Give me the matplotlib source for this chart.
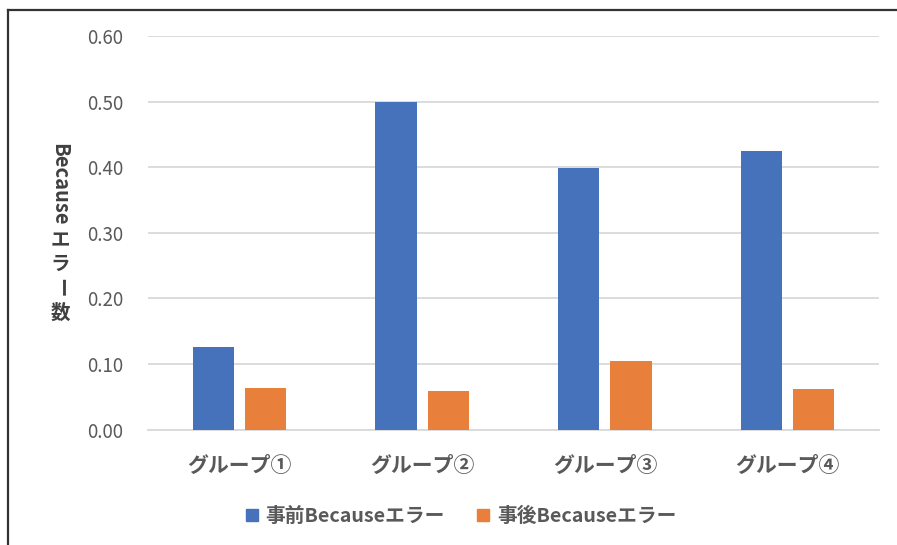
import matplotlib
matplotlib.use("Agg")
import matplotlib.pyplot as plt
from matplotlib.lines import Line2D
import numpy as np

plt.rcParams['font.family'] = ['Noto Sans CJK JP', 'DejaVu Sans']

# Data
groups = ["グループ①", "グループ②", "グループ③", "グループ④"]
before_err = [0.126, 0.500, 0.398, 0.425]
after_err = [0.064, 0.058, 0.104, 0.061]
series_names = ["事前Becauseエラー", "事後Becauseエラー"]
yticks = [0.0, 0.1, 0.2, 0.3, 0.4, 0.5, 0.6]

blue = "#4572BA"
orange = "#E8803C"
grid_c = "#D9D9D9"
text_c = "#595959"

fig = plt.figure(figsize=(8.97, 5.45), dpi=100)
ax = fig.add_axes([148 / 897, 1 - 429.5 / 545, (879 - 148) / 897, (429.5 - 36) / 545])

x = np.arange(len(groups))
w = 0.225
off = 0.143
ax.bar(x - off, before_err, w, color=blue, zorder=3)
ax.bar(x + off, after_err, w, color=orange, zorder=3)

ax.set_xlim(-0.5, len(groups) - 0.5)
ax.set_ylim(0, 0.6)
ax.set_yticks(yticks)
ax.set_yticklabels([f"{v:.2f}" for v in yticks], fontsize=13.5, color=text_c)
ax.set_xticks(x)
ax.set_xticklabels(groups, fontsize=15, fontweight='bold', color=text_c)
ax.tick_params(axis='y', length=0, pad=18)
ax.tick_params(axis='x', length=0, pad=18)
ax.yaxis.grid(True, color=grid_c, linewidth=1.3, zorder=0)
for s in ['top', 'right', 'left']:
    ax.spines[s].set_visible(False)
ax.spines['bottom'].set_color(grid_c)
ax.spines['bottom'].set_linewidth(1.3)

# Vertical axis title: Latin part rotated, kana stacked upright
lab_c = "#404040"
fx = 60 / 897
fig.text(fx, 1 - 184 / 545, "Because", rotation=270, ha='center', va='center',
         fontsize=14.5, fontweight='bold', color=lab_c)
for ch, py, rot in [("エ", 241, 0), ("ラ", 264, 0), ("ー", 288, 270), ("数", 313, 0)]:
    fig.text(fx, 1 - py / 545, ch, rotation=rot, ha='center', va='center',
             fontsize=14, fontweight='bold', color=lab_c)

# Legend
handles = [Line2D([], [], marker='s', linestyle='none', markersize=9, color=c)
           for c in (blue, orange)]
leg = fig.legend(handles, series_names, loc='center', bbox_to_anchor=(460 / 897, 1 - 516 / 545),
                 ncol=2, frameon=False, handlelength=0.8, handletextpad=0.3,
                 columnspacing=1.55, prop={'size': 14.2, 'weight': 'bold'})
for t in leg.get_texts():
    t.set_color(text_c)

# Chart frame (left and top edges)
fig.add_artist(Line2D([7.5 / 897, 7.5 / 897], [0, 1 - 9.5 / 545], color="#333333", linewidth=1.6,
                      transform=fig.transFigure))
fig.add_artist(Line2D([7.5 / 897, 1], [1 - 9.5 / 545, 1 - 9.5 / 545], color="#333333", linewidth=1.6,
                      transform=fig.transFigure))

fig.savefig("out.png", dpi=100)
